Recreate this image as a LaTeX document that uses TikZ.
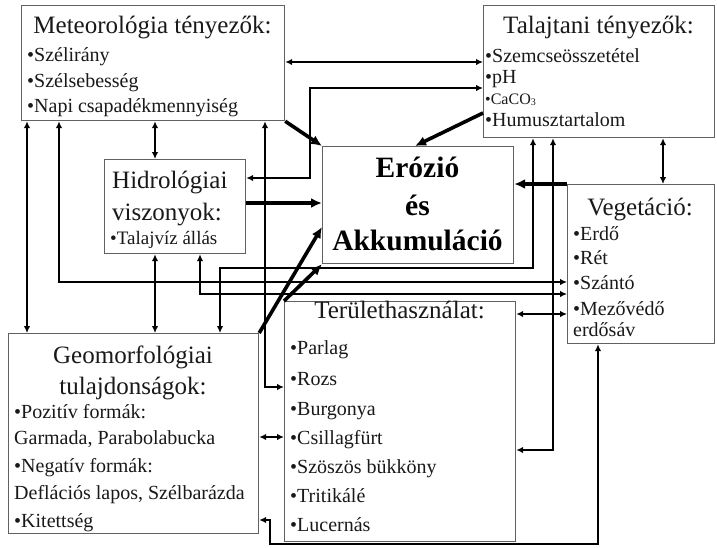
\documentclass[tikz,border=0pt]{standalone}
\usepackage{fontspec}
\setmainfont{Liberation Serif}
\usetikzlibrary{arrows.meta}

\begin{document}
\begin{tikzpicture}[x=1pt,y=-1pt,
  box/.style={draw=black!62, line width=1.2pt, fill=white, inner sep=0pt, anchor=north west},
  ttl/.style={font=\fontsize{25}{25}\selectfont, text=black!90, inner sep=0pt, anchor=base},
  ttlw/.style={ttl, anchor=base west},
  itm/.style={font=\fontsize{20}{20}\selectfont, text=black!90, inner sep=0pt, anchor=base west},
  big/.style={font=\fontsize{29.5}{29.5}\selectfont\bfseries, inner sep=0pt, anchor=base},
  dbl/.style={line width=1.8pt, {Latex[length=7pt,width=6.5pt]}-{Latex[length=7pt,width=6.5pt]}},
  thk/.style={line width=3.6pt, -{Latex[length=11pt,width=10pt]}},
]
\useasboundingbox[fill=white] (0,0) rectangle (717,547);

% boxes
\node[box, minimum width=263pt, minimum height=115pt] (meteo) at (21,5) {};
\node[box, minimum width=231pt, minimum height=132pt] (talaj) at (483,5) {};
\node[box, minimum width=191pt, minimum height=117pt] (eroz) at (322,146) {};
\node[box, minimum width=141pt, minimum height=94pt] (hidro) at (104,159) {};
\node[box, minimum width=147pt, minimum height=159pt] (veg) at (567,184) {};
\node[box, minimum width=250pt, minimum height=200pt] (geo) at (8,333) {};
\node[box, minimum width=231pt, minimum height=240pt] (ter) at (284,301) {};

% texts: Meteorologia
\node[ttl] (mt) at (152.5,33) {Meteorológia tényezők:};
\node[itm] (m1) at (27,61) {•Szélirány};
\node[itm] (m2) at (27,87) {•Szélsebesség};
\node[itm] (m3) at (27,112) {•Napi csapadékmennyiség};

% Talajtani
\node[ttl] (tt) at (598.5,33) {Talajtani tényezők:};
\node[itm] (t1) at (485,62) {•Szemcseösszetétel};
\node[itm] (t2) at (485,83) {•pH};
\node[itm, font=\fontsize{16}{16}\selectfont] (t3) at (485,104) {•CaCO\raisebox{-1pt}{\fontsize{10}{10}\selectfont 3}};
\node[itm] (t4) at (485,126) {•Humusztartalom};

% Hidrologia
\node[ttlw] (ht1) at (112,188) {Hidrológiai};
\node[ttlw] (ht2) at (112,220) {viszonyok:};
\node[itm, font=\fontsize{19}{19}\selectfont] (h1) at (110,244) {•Talajvíz állás};

% Erozio
\node[big] (e1) at (417.5,177) {Erózió};
\node[big] (e2) at (417.5,215) {és};
\node[big] (e3) at (417.5,250) {Akkumuláció};

% Vegetacio
\node[ttl] (vt) at (640,215) {Vegetáció:};
\node[itm] (v1) at (573,240) {•Erdő};
\node[itm] (v2) at (573,264) {•Rét};
\node[itm] (v3) at (573,289) {•Szántó};
\node[itm] (v4) at (573,315) {•Mezővédő};
\node[itm] (v5) at (573,336) {erdősáv};

% Geomorfologia
\node[ttl] (gt1) at (133,363) {Geomorfológiai};
\node[ttl] (gt2) at (133,394) {tulajdonságok:};
\node[itm] (g1) at (14,418) {•Pozitív formák:};
\node[itm] (g2) at (14,444) {Garmada, Parabolabucka};
\node[itm] (g3) at (14,472) {•Negatív formák:};
\node[itm] (g4) at (14,499) {Deflációs lapos, Szélbarázda};
\node[itm] (g5) at (14,527) {•Kitettség};

% Teruethasznalat
\node[ttl] (rt) at (399.5,318) {Területhasználat:};
\node[itm] (r1) at (290,354) {•Parlag};
\node[itm] (r2) at (290,385) {•Rozs};
\node[itm] (r3) at (290,415) {•Burgonya};
\node[itm] (r4) at (290,444) {•Csillagfürt};
\node[itm] (r5) at (290,473) {•Szöszös bükköny};
\node[itm] (r6) at (290,502) {•Tritikálé};
\node[itm] (r7) at (290,531) {•Lucernás};

% thin two-way links
\draw[dbl] (meteo.east |- 0,62) -- (talaj.west |- 0,62);
\draw[dbl] (talaj.west |- 0,88) -- (310,88) -- (310,178) -- (hidro.east |- 0,178);
\draw[dbl] (meteo.south -| 155,0) -- (hidro.north -| 155,0);
\draw[dbl] (hidro.south -| 155,0) -- (geo.north -| 155,0);
\draw[dbl] (meteo.south -| 27,0) -- (geo.north -| 27,0);
\draw[dbl] (meteo.south -| 59,0) -- (59,282) -- (veg.west |- 0,282);
\draw[dbl] (meteo.south -| 265,0) -- (265,387) -- (ter.west |- 0,387);
\draw[dbl] (hidro.south -| 200,0) -- (200,294) -- (veg.west |- 0,294);
\draw[dbl] (talaj.south -| 533,0) -- (533,268) -- (220,268) -- (geo.north -| 220,0);
\draw[dbl] (talaj.south -| 553,0) -- (553,450) -- (ter.east |- 0,450);
\draw[dbl] (talaj.south -| 663,0) -- (veg.north -| 663,0);
\draw[dbl] (ter.east |- 0,314) -- (veg.west |- 0,314);
\draw[dbl] (geo.east |- 0,437) -- (ter.west |- 0,437);
\draw[dbl] (geo.east |- 0,520) -- (270,520) -- (270,544) -- (598,544) -- (veg.south -| 598,0);

% heavy arrows into the centre
\draw[thk] (meteo.south east) -- (eroz.north west);
\draw[thk] (talaj.west |- 0,113) -- (eroz.north -| 415,0);
\draw[thk] (hidro.east |- 0,203) -- (eroz.west |- 0,203);
\draw[thk] (geo.north east) -- (eroz.west |- 0,227);
\draw[thk] (ter.north west) -- (eroz.south west);
\draw[thk] (veg.north west) -- (eroz.east |- 0,184);
\end{tikzpicture}
\end{document}
